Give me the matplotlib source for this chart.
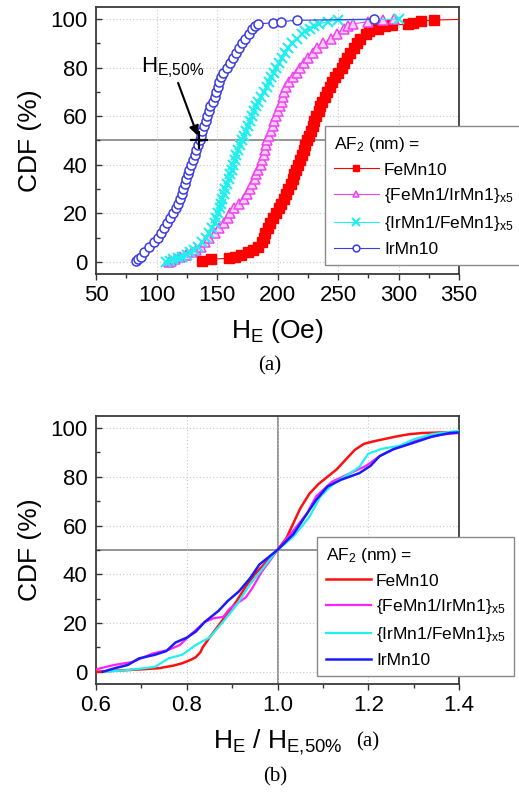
import matplotlib
matplotlib.use("Agg")
import matplotlib.pyplot as plt
from matplotlib.ticker import MultipleLocator, FormatStrFormatter

plt.rcParams['font.family'] = ['Liberation Sans', 'DejaVu Sans']
plt.rcParams['mathtext.default'] = 'regular'

# Panel (a): exchange bias field H_E (Oe) versus cumulative percentage
femn10_x = [138, 145, 160, 165, 170, 176, 180, 184, 187, 188.5, 190, 192, 194, 196, 198.5, 201, 203, 205,
            207, 209, 211, 212.5, 214, 215.5, 217, 218.5, 220, 221.5, 223, 224.5, 226, 227.5, 229, 230.5,
            232, 234, 235.5, 237, 239, 241, 243, 245, 247.5, 250, 253, 255, 257.5, 260, 263, 265.5, 268,
            273, 276, 283, 289, 295, 308, 312, 319, 329, 360]
femn10_y = [0.5, 1, 1.5, 2, 3, 4, 5, 6, 8, 10, 12, 14, 16, 18, 20, 22, 24, 26, 28, 30, 32, 34, 36, 38, 40,
            42, 44, 46, 48, 50, 52, 54, 56, 58, 60, 62, 64, 66, 68, 70, 72, 74, 76, 78, 80, 82, 84, 86, 88,
            90, 92, 94, 95, 96, 97, 97.5, 98, 98.6, 99.2, 99.6, 100]

multi_fe_ir_x = [110, 112, 115, 119, 124, 129, 133, 137, 140, 143, 148, 152, 156, 159, 161, 164, 168, 172,
                 175, 177, 179, 181, 182.5, 184, 186, 187.5, 189, 189.5, 190.5, 191.5, 193, 194.5, 196,
                 197.5, 199, 200.5, 202, 203.5, 204.5, 205, 207, 209.5, 212.5, 216, 219, 222, 225, 229, 233,
                 238, 244, 249, 255, 258, 262, 275, 287, 296]
multi_fe_ir_y = [0, 0.5, 1, 2, 3, 4, 5, 6, 8, 10, 12, 14, 16, 18, 20, 22, 24, 26, 28, 30, 32, 34, 36, 38,
                 40, 42, 44, 46, 48, 50, 52, 54, 56, 58, 60, 62, 64, 66, 68, 70, 72, 74, 76, 78, 80, 82, 84,
                 86, 88, 90, 92, 94, 96, 97, 98, 99, 99.5, 100]

multi_ir_fe_x = [108, 111, 114, 118, 121, 125, 128, 131, 134, 138, 141, 143.5, 146, 148, 149.5, 151, 152.5,
                 153.5, 154.5, 156, 157, 158, 159.5, 160.5, 162, 163, 164.5, 166, 167.5, 169, 171, 172.5,
                 174, 176, 177.5, 179, 180.5, 182, 184, 186.5, 189, 191, 193, 195, 197, 199, 201.5, 203.5,
                 206, 209, 212, 216, 220, 223, 227, 230, 234, 242, 250, 300]
multi_ir_fe_y = [0, 0.5, 1, 1.5, 2, 3, 4, 5, 6, 8, 10, 12, 14, 16, 18, 20, 22, 24, 26, 28, 30, 32, 34, 36,
                 38, 40, 42, 44, 46, 48, 50, 52, 54, 56, 58, 60, 62, 64, 66, 68, 70, 72, 74, 76, 78, 80, 82,
                 84, 86, 88, 90, 92, 94, 95, 96, 97, 98, 99, 99.5, 100]

irmn10_x = [83, 85, 87, 89.5, 94, 98, 101.5, 104, 106.5, 109, 111.5, 114, 116, 117.5, 119, 121, 122, 123.5,
            124.5, 126, 127, 128.5, 130, 131.5, 133, 134.5, 136, 137, 138, 139, 140.5, 141.5, 143, 144.5,
            146.5, 148, 149, 150.5, 152, 153.5, 155, 158, 161, 163, 166, 168.5, 171, 173.5, 176.5, 179,
            181, 184, 196, 203, 216, 280]
irmn10_y = [0.5, 1, 2, 4, 6, 8, 10, 12, 14, 16, 18, 20, 22, 24, 26, 28, 30, 32, 34, 36, 38, 40, 42, 44, 46,
            48, 50, 52, 54, 56, 58, 60, 62, 64, 66, 68, 70, 72, 74, 76, 78, 80, 82, 84, 86, 88, 90, 92, 94,
            96, 97, 98, 98.5, 99, 99.5, 100]

# Median of IrMn10 marked on panel (a)
he50_irmn10 = 135

# Panel (b): H_E normalised by its median
norm_femn10_x = [0.60, 0.65, 0.70, 0.74, 0.77, 0.79, 0.81, 0.82, 0.83, 0.835, 0.85, 0.87, 0.89, 0.91, 0.93,
                 0.95, 0.97, 0.99, 1.00, 1.02, 1.035, 1.05, 1.07, 1.09, 1.11, 1.13, 1.15, 1.17, 1.19, 1.21,
                 1.23, 1.26, 1.29, 1.32, 1.36, 1.40]
norm_femn10_y = [0, 0.5, 1.0, 1.5, 2.5, 3.5, 5, 6, 8, 10, 14, 19, 24, 29, 35, 40, 44, 48, 50, 55, 61, 67,
                 73, 77, 80, 83, 87, 91, 93.5, 94.5, 95.3, 96.5, 97.5, 98, 98.2, 98.3]

norm_fe_ir_x = [0.60, 0.64, 0.68, 0.725, 0.76, 0.785, 0.81, 0.84, 0.86, 0.88, 0.895, 0.93, 0.945, 0.965,
                0.985, 1.00, 1.035, 1.065, 1.085, 1.12, 1.16, 1.195, 1.225, 1.27, 1.315, 1.36, 1.40]
norm_fe_ir_y = [1, 2.8, 4, 7.5, 9, 11, 15.5, 20.5, 22, 22.5, 26, 30.5, 34.5, 41, 46, 50, 58, 65, 72, 78,
                81.5, 84.5, 88.5, 92.7, 95.4, 97.3, 98]

norm_ir_fe_x = [0.62, 0.67, 0.73, 0.76, 0.79, 0.82, 0.85, 0.88, 0.91, 0.94, 0.97, 1.00, 1.035, 1.07, 1.095,
                1.125, 1.16, 1.18, 1.20, 1.23, 1.27, 1.30, 1.34, 1.40]
norm_ir_fe_y = [0, 0.7, 2, 5.5, 7, 11, 14, 20.5, 27.5, 36, 43, 50, 55.5, 63.5, 72, 77.5, 81.5, 84, 89.5,
                91.5, 92.8, 95.4, 97.5, 98.9]

norm_irmn10_x = [0.615, 0.64, 0.67, 0.695, 0.73, 0.755, 0.775, 0.80, 0.82, 0.84, 0.87, 0.89, 0.915, 0.94,
                 0.96, 0.98, 1.00, 1.035, 1.06, 1.085, 1.11, 1.14, 1.18, 1.205, 1.225, 1.255, 1.30, 1.34,
                 1.38, 1.40]
norm_irmn10_y = [0, 1.4, 2.8, 5.5, 7, 8.5, 12, 14, 16.5, 20.5, 25, 29, 33, 38.5, 44, 47, 50, 56.5, 63.5,
                 70.5, 76, 78.8, 81.5, 84.5, 88.5, 91.3, 94, 96.5, 98, 98.2]

labels = ['FeMn10', '{FeMn1/IrMn1}$_{x5}$', '{IrMn1/FeMn1}$_{x5}$', 'IrMn10']
legend_title = 'AF$_2$ (nm) ='


def style_axes(ax, major_x, minor_x):
    """
    Origin-like frame: inward y ticks, outward x ticks, dotted grid
    """
    ax.xaxis.set_major_locator(MultipleLocator(major_x))
    ax.xaxis.set_minor_locator(MultipleLocator(minor_x))
    ax.yaxis.set_major_locator(MultipleLocator(20))
    ax.yaxis.set_minor_locator(MultipleLocator(10))
    ax.tick_params(axis='x', which='both', direction='out', labelsize=16, pad=4, color='#333333')
    ax.tick_params(axis='y', which='both', direction='in', labelsize=16, pad=6, color='#333333')
    ax.tick_params(which='major', length=4, width=1)
    ax.tick_params(which='minor', length=3, width=1)
    ax.grid(True, which='major', linestyle=(0, (1, 2)), color='#c8c8c8', linewidth=0.8)
    for spine in ax.spines.values():
        spine.set_linewidth(1.3)
        spine.set_color('#3a3a3a')
    ax.set_ylim(-5, 105)
    ax.set_ylabel('CDF (%)', fontsize=19, labelpad=6)


def add_legend(ax, fig, x0, y0):
    leg = ax.legend(title=legend_title, alignment='left', loc='upper left',
                    bbox_to_anchor=(x0, y0), bbox_transform=fig.transFigure,
                    fontsize=12.5, title_fontsize=12.5, handlelength=2.6, handletextpad=0.3,
                    labelspacing=0.5, borderpad=0.5, fancybox=False, framealpha=1,
                    edgecolor='#8a8a8a', borderaxespad=0, markerscale=0.75)
    leg.get_frame().set_linewidth(1.0)
    return leg


fig = plt.figure(figsize=(5.19, 7.93), dpi=100)

# ---------------- Panel (a) ----------------
ax1 = fig.add_axes([0.185, 0.6545, 0.6994, 0.3367])
ax1.axhline(50, color='#8c8c8c', linewidth=1.3, zorder=1)
ax1.plot(femn10_x, femn10_y, '-s', color='#ff0000', markersize=6.5, linewidth=0.8,
         markerfacecolor='#ff0000', markeredgecolor='#ff0000', label=labels[0], zorder=3)
ax1.plot(multi_fe_ir_x, multi_fe_ir_y, '-^', color='#ee44ee', markersize=6.5, linewidth=0.8,
         markerfacecolor='#fbd0fb', markeredgewidth=1.1, label=labels[1], zorder=3)
ax1.plot(multi_ir_fe_x, multi_ir_fe_y, '-x', color='#22eeee', markersize=7, linewidth=0.8,
         markeredgewidth=1.5, label=labels[2], zorder=3)
ax1.plot(irmn10_x, irmn10_y, '-o', color='#3c3ce0', markersize=6.5, linewidth=0.8,
         markerfacecolor='white', markeredgewidth=1.1, label=labels[3], zorder=3)
ax1.plot([he50_irmn10], [50], '+', color='black', markersize=13, markeredgewidth=1.6, zorder=4)
ax1.annotate('H$_{E{,}50\\%}$', xy=(he50_irmn10 - 1, 52), xytext=(87, 78), fontsize=16,
             arrowprops=dict(arrowstyle='-|>', color='black', lw=1.5, mutation_scale=14,
                             shrinkA=0, shrinkB=0), zorder=5)
ax1.set_xlim(50, 350)
style_axes(ax1, 50, 25)
ax1.set_xlabel('H$_E$ (Oe)', fontsize=19, labelpad=8)
add_legend(ax1, fig, 325 / 519, 1 - 126 / 793)
fig.text(0.52, 1 - 366 / 793, '(a)', fontsize=15, family='Liberation Serif', ha='center', va='center')

# ---------------- Panel (b) ----------------
ax2 = fig.add_axes([0.185, 0.1375, 0.6994, 0.338])
ax2.axhline(50, color='#8c8c8c', linewidth=1.3, zorder=1)
ax2.axvline(1.0, color='#8c8c8c', linewidth=1.3, zorder=1)
ax2.plot(norm_femn10_x, norm_femn10_y, color='#ff1010', linewidth=1.8, label=labels[0], zorder=3)
ax2.plot(norm_fe_ir_x, norm_fe_ir_y, color='#ff22ff', linewidth=1.6, label=labels[1], zorder=3)
ax2.plot(norm_ir_fe_x, norm_ir_fe_y, color='#22f0f0', linewidth=1.6, label=labels[2], zorder=3)
ax2.plot(norm_irmn10_x, norm_irmn10_y, color='#1a1aff', linewidth=1.8, label=labels[3], zorder=3)
ax2.set_xlim(0.6, 1.4)
style_axes(ax2, 0.2, 0.1)
ax2.xaxis.set_major_formatter(FormatStrFormatter('%.1f'))
ax2.set_xlabel('H$_E$ / H$_{E{,}50\\%}$', fontsize=19, labelpad=8)
add_legend(ax2, fig, 317 / 519, 1 - 537 / 793)
fig.text(368 / 519, 1 - 742 / 793, '(a)', fontsize=15, family='Liberation Serif', ha='center', va='center')
fig.text(275 / 519, 1 - 777 / 793, '(b)', fontsize=15, family='Liberation Serif', ha='center', va='center')

fig.savefig('out.png', dpi=100)
